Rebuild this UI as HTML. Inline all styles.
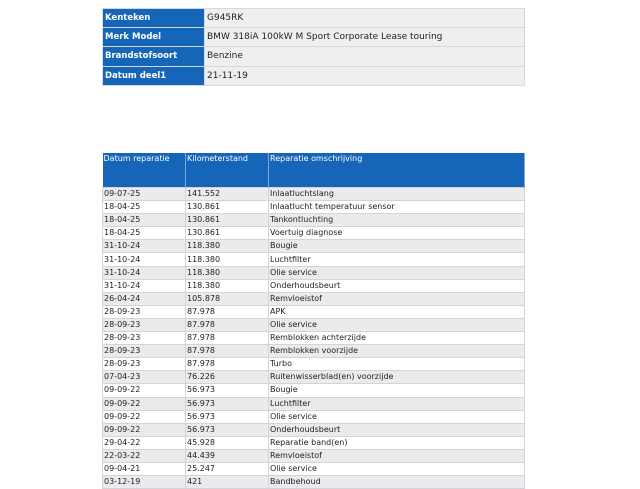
<!DOCTYPE html>
<html><head><meta charset="utf-8"><style>
body{margin:0;width:640px;height:480px;overflow:hidden;background:#fff;font-family:"DejaVu Sans","Liberation Sans",sans-serif;}
table{border-collapse:collapse;position:absolute;left:102px;table-layout:fixed;}
td{padding:0 0 0 2px;overflow:hidden;white-space:nowrap;}
#t1{top:8px;width:423px;font-size:9px;}
#t1 td{height:18.2px;border:1px solid #d8d8dc;}
#t1 td.l{background:#1565b8;color:#fff;font-weight:bold;font-size:8.5px;width:99px;}
#t1 td.v{background:#efeff2;color:#222;}
#t2{top:153px;width:423px;font-size:8px;color:#222;}
#t2 th{background:#1565b8;color:#fff;font-weight:normal;text-align:left;vertical-align:top;height:33px;padding:1px 0 0 1px;border-right:1px solid #7fa9d6;font-size:8px;}
#t2 td{height:12.1px;border:1px solid #d4d4d8;line-height:12px;padding-left:1px;}
#t2 tr:nth-child(even) td{background:#ebebee;}
</style></head><body>
<table id="t1">
<tr><td class="l">Kenteken</td><td class="v">G945RK</td></tr>
<tr><td class="l">Merk Model</td><td class="v">BMW 318iA 100kW M Sport Corporate Lease touring</td></tr>
<tr><td class="l">Brandstofsoort</td><td class="v">Benzine</td></tr>
<tr><td class="l">Datum deel1</td><td class="v">21-11-19</td></tr>
</table>
<table id="t2">
<colgroup><col style="width:83px"><col style="width:83px"><col></colgroup>
<tr><th>Datum reparatie</th><th>Kilometerstand</th><th>Reparatie omschrijving</th></tr>
<tr><td>09-07-25</td><td>141.552</td><td>Inlaatluchtslang</td></tr>
<tr><td>18-04-25</td><td>130.861</td><td>Inlaatlucht temperatuur sensor</td></tr>
<tr><td>18-04-25</td><td>130.861</td><td>Tankontluchting</td></tr>
<tr><td>18-04-25</td><td>130.861</td><td>Voertuig diagnose</td></tr>
<tr><td>31-10-24</td><td>118.380</td><td>Bougie</td></tr>
<tr><td>31-10-24</td><td>118.380</td><td>Luchtfilter</td></tr>
<tr><td>31-10-24</td><td>118.380</td><td>Olie service</td></tr>
<tr><td>31-10-24</td><td>118.380</td><td>Onderhoudsbeurt</td></tr>
<tr><td>26-04-24</td><td>105.878</td><td>Remvloeistof</td></tr>
<tr><td>28-09-23</td><td>87.978</td><td>APK</td></tr>
<tr><td>28-09-23</td><td>87.978</td><td>Olie service</td></tr>
<tr><td>28-09-23</td><td>87.978</td><td>Remblokken achterzijde</td></tr>
<tr><td>28-09-23</td><td>87.978</td><td>Remblokken voorzijde</td></tr>
<tr><td>28-09-23</td><td>87.978</td><td>Turbo</td></tr>
<tr><td>07-04-23</td><td>76.226</td><td>Ruitenwisserblad(en) voorzijde</td></tr>
<tr><td>09-09-22</td><td>56.973</td><td>Bougie</td></tr>
<tr><td>09-09-22</td><td>56.973</td><td>Luchtfilter</td></tr>
<tr><td>09-09-22</td><td>56.973</td><td>Olie service</td></tr>
<tr><td>09-09-22</td><td>56.973</td><td>Onderhoudsbeurt</td></tr>
<tr><td>29-04-22</td><td>45.928</td><td>Reparatie band(en)</td></tr>
<tr><td>22-03-22</td><td>44.439</td><td>Remvloeistof</td></tr>
<tr><td>09-04-21</td><td>25.247</td><td>Olie service</td></tr>
<tr><td>03-12-19</td><td>421</td><td>Bandbehoud</td></tr>
</table>
</body></html>
